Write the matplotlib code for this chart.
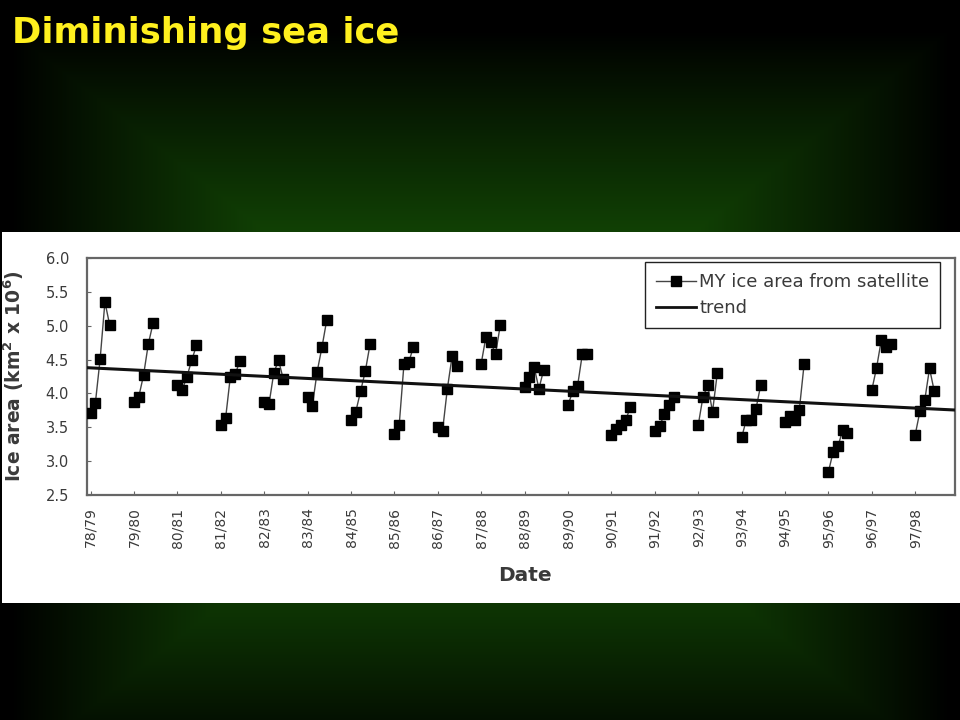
import numpy as np
import matplotlib
matplotlib.use("Agg")
import matplotlib.pyplot as plt
from matplotlib.patches import Rectangle
from matplotlib.lines import Line2D

# ---------------- data ----------------
seasons = ['78/79', '79/80', '80/81', '81/82', '82/83', '83/84', '84/85',
           '85/86', '86/87', '87/88', '88/89', '89/90', '90/91', '91/92',
           '92/93', '93/94', '94/95', '95/96', '96/97', '97/98']

ice_78_79 = [3.71, 3.86, 4.51, 5.35, 5.01]
ice_79_80 = [3.88, 3.95, 4.27, 4.73, 5.04]
ice_80_81 = [4.12, 4.05, 4.25, 4.49, 4.71]
ice_81_82 = [3.53, 3.63, 4.25, 4.28, 4.48]
ice_82_83 = [3.87, 3.84, 4.30, 4.49, 4.21]
ice_83_84 = [3.94, 3.82, 4.32, 4.68, 5.08]
ice_84_85 = [3.61, 3.73, 4.03, 4.33, 4.73]
ice_85_86 = [3.40, 3.53, 4.43, 4.46, 4.69]
ice_86_87 = [3.51, 3.45, 4.07, 4.55, 4.41]
ice_87_88 = [4.44, 4.84, 4.76, 4.58, 5.01]
ice_88_89 = [4.10, 4.25, 4.39, 4.07, 4.35]
ice_89_90 = [3.83, 4.03, 4.11, 4.58, 4.58]
ice_90_91 = [3.39, 3.47, 3.54, 3.61, 3.80]
ice_91_92 = [3.44, 3.52, 3.69, 3.83, 3.95]
ice_92_93 = [3.53, 3.95, 4.12, 3.73, 4.30]
ice_93_94 = [3.35, 3.61, 3.61, 3.77, 4.12]
ice_94_95 = [3.58, 3.66, 3.61, 3.76, 4.43]
ice_95_96 = [2.84, 3.14, 3.22, 3.46, 3.41]
ice_96_97 = [4.05, 4.38, 4.79, 4.69, 4.73]
ice_97_98 = [3.39, 3.74, 3.90, 4.37, 4.03]

ice_by_season = [ice_78_79, ice_79_80, ice_80_81, ice_81_82, ice_82_83,
                 ice_83_84, ice_84_85, ice_85_86, ice_86_87, ice_87_88,
                 ice_88_89, ice_89_90, ice_90_91, ice_91_92, ice_92_93,
                 ice_93_94, ice_94_95, ice_95_96, ice_96_97, ice_97_98]

month_step = 0.11          # spacing of the monthly samples within a season
trend_start = 4.38         # trend value at left edge
trend_end = 3.755          # trend value at right edge
yticks = [2.5, 3.0, 3.5, 4.0, 4.5, 5.0, 5.5, 6.0]

# ---------------- figure ----------------
W, H = 960, 720
fig = plt.figure(figsize=(9.6, 7.2), dpi=100)

# slide background gradient
bg = fig.add_axes([0, 0, 1, 1])
yy, xx = np.mgrid[0:H, 0:W]
u = np.abs(xx - 480) / 470.0
v = np.abs(yy - 400) / 370.0
t = np.clip(np.maximum(u, v), 0, 1)
f = np.clip(1 - t, 0, 1) ** 0.95
img = np.zeros((H, W, 3))
img[..., 0] = 30 / 255 * f
img[..., 1] = 115 / 255 * f
img[..., 2] = 8 / 255 * f
bg.imshow(img, extent=[0, W, H, 0], aspect='auto', interpolation='bilinear')
bg.set_xlim(0, W)
bg.set_ylim(H, 0)
bg.axis('off')

# white panel with the chart
bg.add_patch(Rectangle((2, 232), 958, 371, facecolor='white', edgecolor='none', zorder=2))

# title
fig.text(12 / W, 1 - 33 / H, 'Diminishing sea ice', color='#FFF01E',
         fontsize=25.5, fontweight='bold', family='DejaVu Sans', va='center', ha='left')

# main axes
left, right, top, bottom = 87, 955, 258, 495
ax = fig.add_axes([left / W, 1 - bottom / H, (right - left) / W, (bottom - top) / H])
ax.set_facecolor('white')

txt = '#3a3a3a'
for i, vals in enumerate(ice_by_season):
    xs = i + month_step * np.arange(len(vals))
    ax.plot(xs, vals, color='#444444', lw=1.0, zorder=2)
    ax.plot(xs, vals, ls='none', marker='s', ms=7, mfc='black', mec='black', zorder=3)

x0, x1 = -0.083, 19.917
ax.plot([x0, x1], [trend_start, trend_end], color='#111111', lw=2.2, zorder=4)

ax.set_xlim(x0, x1)
ax.set_ylim(2.5, 6.0)
ax.set_yticks(yticks)
ax.set_yticklabels([f'{v:.1f}' for v in yticks], fontsize=10.5, color=txt)
ax.set_xticks(np.arange(len(seasons)))
ax.set_xticklabels(seasons, rotation=90, fontsize=10, color=txt)
ax.tick_params(axis='y', direction='in', length=3, pad=13, color='#666666')
ax.tick_params(axis='x', direction='in', length=3, pad=9, color='#666666')
for s in ax.spines.values():
    s.set_color('#666666')
    s.set_linewidth(1.6)

ax.set_ylabel(r'Ice area (km$^\mathbf{2}$ x 10$^\mathbf{6}$)', fontsize=13.5,
              fontweight='bold', color=txt)
ax.yaxis.set_label_coords(-0.07, 0.5)
ax.set_xlabel('Date', fontsize=14.5, fontweight='bold', color=txt)
ax.xaxis.set_label_coords(0.505, -0.30)
ax.xaxis.label.set_va('top')

handles = [Line2D([], [], color='#444444', lw=1.0, marker='s', ms=7,
                  mfc='black', mec='black'),
           Line2D([], [], color='#111111', lw=2.0)]
leg = ax.legend(handles, ['MY ice area from satellite', 'trend'],
                loc='upper right', bbox_to_anchor=(0.983, 0.983),
                borderaxespad=0, fontsize=13, frameon=True, fancybox=False,
                framealpha=1, edgecolor='#222222', handlelength=2.2,
                handletextpad=0.2, borderpad=0.6, labelspacing=0.45,
                labelcolor=txt)
leg.get_frame().set_linewidth(1.0)

fig.savefig('out.png', dpi=100)
